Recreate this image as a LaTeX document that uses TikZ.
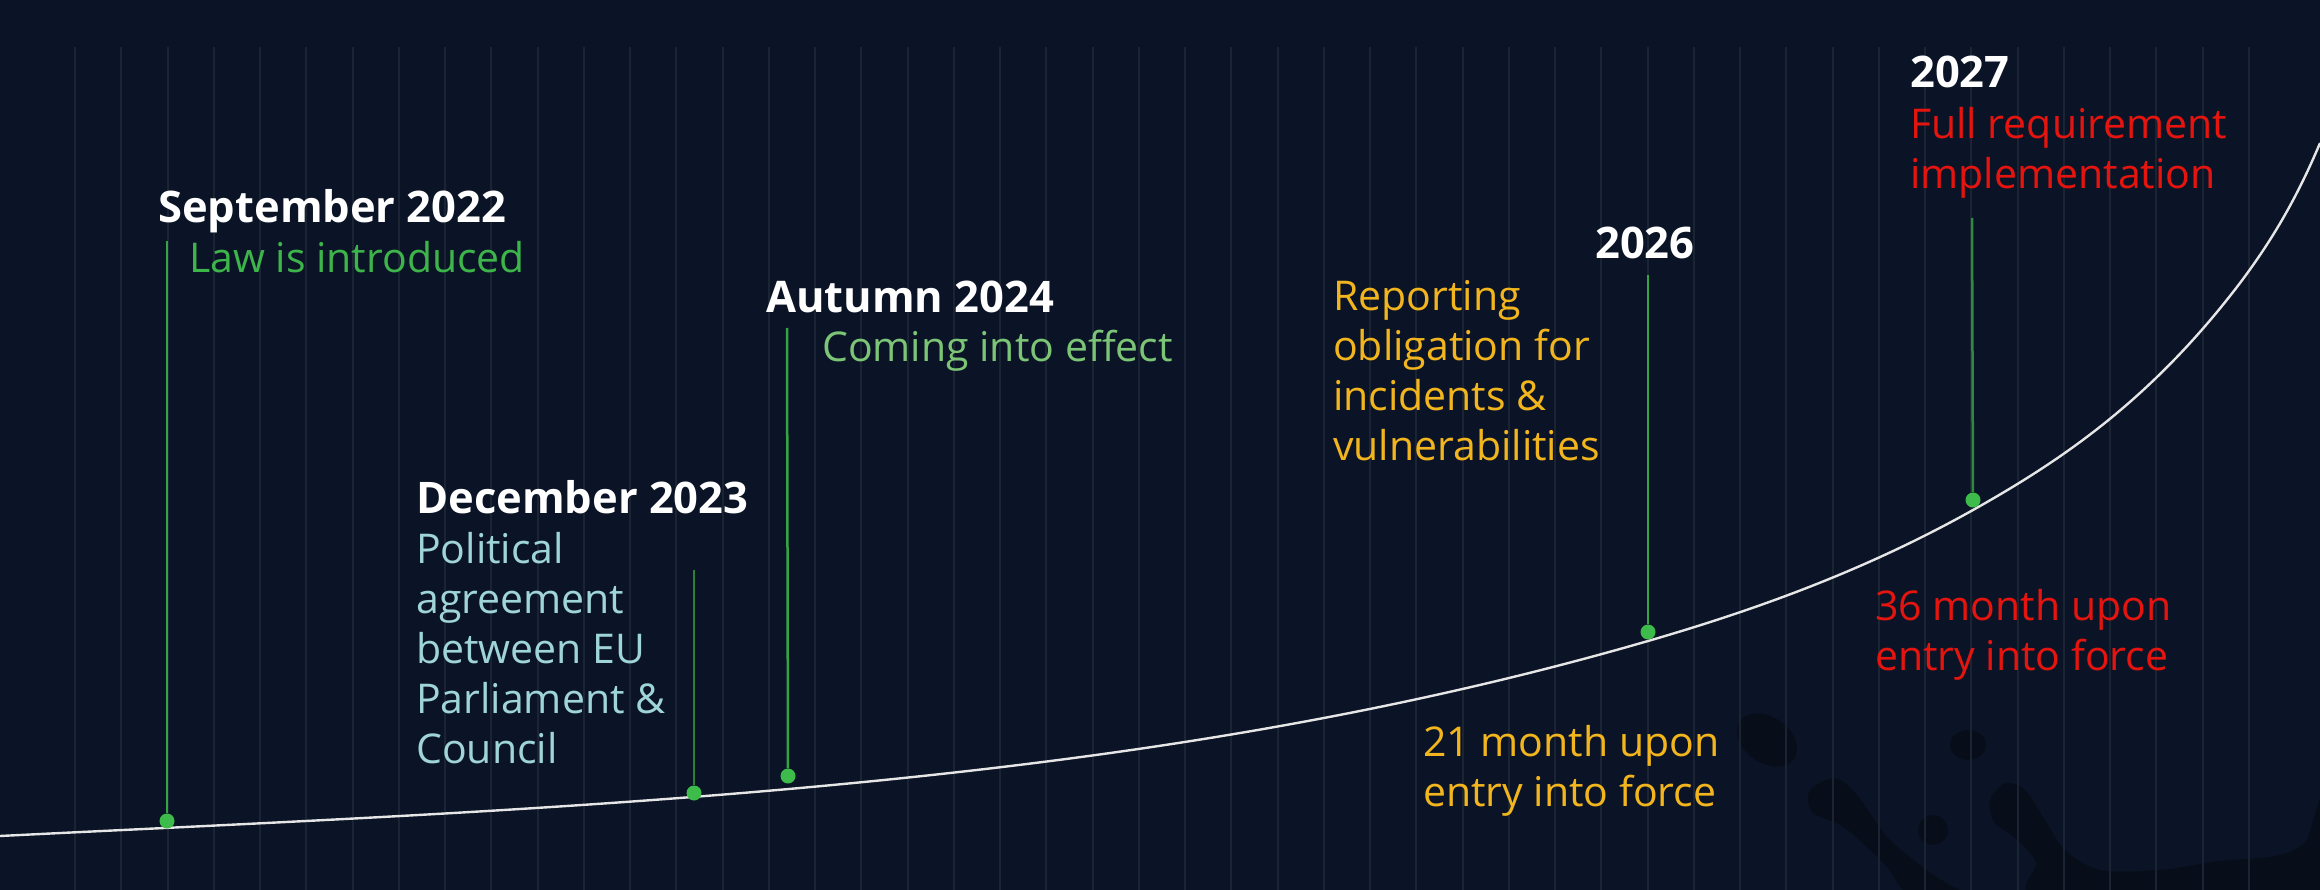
\documentclass[tikz,border=0pt]{standalone}
\usepackage{fontspec}
\setmainfont{Open Sans}
\definecolor{bg}{HTML}{0B1426}
\definecolor{gridc}{HTML}{1A2433}
\definecolor{blot}{HTML}{070E1A}
\definecolor{dotg}{HTML}{3DBB4B}
\definecolor{lineg}{HTML}{36A345}
\definecolor{lawg}{HTML}{3DB54A}
\definecolor{effg}{HTML}{7CC576}
\definecolor{cyanish}{HTML}{9FD5D6}
\definecolor{yel}{HTML}{F2B51D}
\definecolor{redc}{HTML}{E5140E}
\definecolor{curvec}{HTML}{E6E6E6}
\tikzset{
  datelbl/.style={text=white, font=\fontsize{43.5}{50}\selectfont\bfseries, anchor=base west, inner sep=0},
  desclbl/.style={font=\fontsize{41}{50}\selectfont, anchor=base west, inner sep=0, align=left},
  vline/.style={draw=lineg, line width=2.5},
  dotnode/.style={circle, fill=dotg, minimum size=15, inner sep=0},
  gridline/.style={draw=gridc, line width=2},
  blotfill/.style={fill=blot},
  timecurve/.style={draw=curvec, line width=2.4}
}
\begin{document}
\begin{tikzpicture}[x=1pt, y=-1pt]
\useasboundingbox (0,0) rectangle (2320,890);
\fill[bg] (0,0) rectangle (2320,890);

% ink splash
\fill[blotfill, rotate around={-35:(1767,740)}] (1767,740) ellipse (33 and 23);
\fill[blotfill] (1968,745) ellipse (18 and 15);
\fill[blotfill] (1933,830) circle (15);
\fill[blotfill] plot[smooth cycle] coordinates {(1810,790) (1835,778) (1857,795) (1890,840) (1935,876) (1965,895) (1910,895) (1885,865) (1845,828) (1812,812)};
\fill[blotfill] plot[smooth cycle] coordinates {(1990,800) (2005,783) (2025,790) (2045,820) (2065,850) (2100,870) (2160,870) (2220,861) (2275,856) (2305,842) (2322,800) (2330,900) (2045,900) (2036,862) (2015,838) (1994,822)};

% grid
\foreach \i in {0,...,47} \draw[gridline] ({75+46.25*\i},47) -- ({75+46.25*\i},890);

% curve
\coordinate (k0) at (0,836);
\coordinate (k1) at (800,788);
\coordinate (k2) at (1648,641);
\coordinate (k3) at (1973,510);
\coordinate (k4) at (2240,283);
\coordinate (k5) at (2320,143);
\draw[timecurve] (k0) .. controls (267,822.7) and (533,812) .. (k1)
  .. controls (1083,762.5) and (1365,723) .. (k2)
  .. controls (1756,609.7) and (1865,570.5) .. (k3)
  .. controls (2062,460) and (2151,400) .. (k4)
  .. controls (2267,247) and (2294,205) .. (k5);

% dots
\node[dotnode] (p1) at (167,821) {};
\node[dotnode] (p2) at (694,793) {};
\node[dotnode] (p3) at (788,776) {};
\node[dotnode] (p4) at (1648,632) {};
\node[dotnode] (p5) at (1973,500) {};

% line tops
\coordinate (c1) at (167,241);
\coordinate (c2) at (694,570);
\coordinate (c3) at (787,328);
\coordinate (c4) at (1648,275);
\coordinate (c5) at (1972,218);

\draw[vline] (c1) -- (p1);
\draw[vline, draw=lineg!80!black] (c2) -- (p2);
\draw[vline] (c3) -- (p3);
\draw[vline] (c4) -- (p4);
\draw[vline, draw=lineg!85!black] (c5) -- (p5);

% labels (multi-line nodes are anchored at the baseline of their last line)
\node[datelbl] (d1) at (158,223) {September 2022};
\node[desclbl, text=lawg] (t1) at (189,273) {Law is introduced};

\node[datelbl] (d3) at (766,313) {Autumn 2024};
\node[desclbl, text=effg] (t3) at (822,362) {Coming into effect};

\node[datelbl] (d2) at (416,513) {December 2023};
\node[desclbl, text=cyanish] (t2) at (416,763) {Political\\agreement\\between EU\\Parliament \&\\Council};

\node[datelbl] (d4) at (1595,259) {2026};
\node[desclbl, text=yel] (t4) at (1333,460) {Reporting\\obligation for\\incidents \&\\vulnerabilities};
\node[desclbl, text=yel] (m4) at (1423,806) {21 month upon\\entry into force};

\node[datelbl] (d5) at (1910,88) {2027};
\node[desclbl, text=redc] (t5) at (1910,189) {Full requirement\\implementation};
\node[desclbl, text=redc] (m5) at (1875,670) {36 month upon\\entry into force};
\end{tikzpicture}
\end{document}
